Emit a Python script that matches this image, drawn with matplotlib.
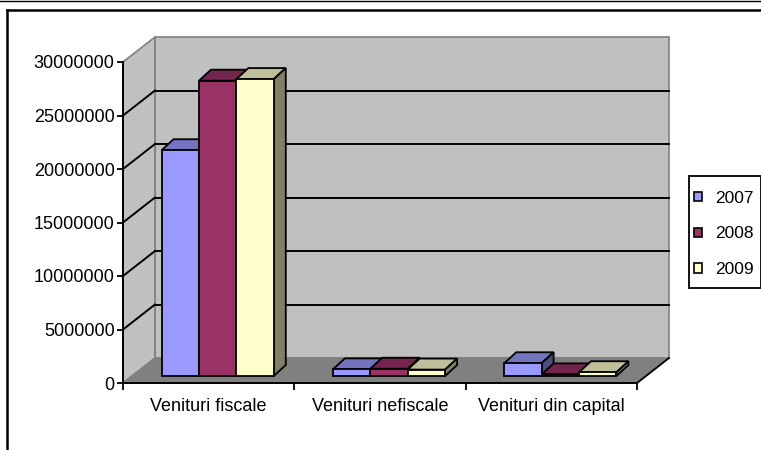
import numpy as np
import matplotlib
matplotlib.use("Agg")
import matplotlib.pyplot as plt
from matplotlib.patches import Polygon, Rectangle, Patch
from matplotlib.lines import Line2D
from matplotlib.colors import to_rgb

plt.rcParams['font.family'] = ['Liberation Sans', 'DejaVu Sans']

# ---- data ----
categories = ["Venituri fiscale", "Venituri nefiscale", "Venituri din capital"]
years = ["2007", "2008", "2009"]
v2007 = [21100000, 620000, 1190000]
v2008 = [27600000, 680000, 150000]
v2009 = [27750000, 600000, 350000]
series_values = [v2007, v2008, v2009]
colors = ["#9999FF", "#993366", "#FFFFCC"]
yticks = [0, 5000000, 10000000, 15000000, 20000000, 25000000, 30000000]

W, H = 761, 450
fig = plt.figure(figsize=(W / 100, H / 100), dpi=100)
fig.patch.set_facecolor("white")

def fx(px):
    return px / W

def fy(py):
    return 1 - py / H

# front plane of the 3D box
L, R, B, T = 123, 637, 383, 62
ax = fig.add_axes([fx(L), fy(B), fx(R) - fx(L), fy(T) - fy(B)])
ncat = len(categories)
ymax = yticks[-1]
ax.set_xlim(0, ncat)
ax.set_ylim(0, ymax)
ax.patch.set_visible(False)

ppx = (R - L) / ncat        # pixels per category unit
ppy = (B - T) / ymax        # pixels per value unit

def ox(px):
    return px / ppx

def oy(px):
    return px / ppy

WDX, WDY = ox(32), oy(25)   # wall depth
BX, BY = ox(9), oy(7)       # bar front offset
DX, DY = ox(12), oy(11)     # bar depth

wall_c = "#C0C0C0"
floor_c = "#808080"
edge_c = "#808080"

# back wall
ax.add_patch(Polygon([(WDX, WDY), (ncat + WDX, WDY), (ncat + WDX, ymax + WDY), (WDX, ymax + WDY)],
                     closed=True, facecolor=wall_c, edgecolor=edge_c, lw=1.2, zorder=0.5, clip_on=False))
# left wall
ax.add_patch(Polygon([(0, 0), (WDX, WDY), (WDX, ymax + WDY), (0, ymax)],
                     closed=True, facecolor=wall_c, edgecolor=edge_c, lw=1.2, zorder=0.5, clip_on=False))
# gridlines
for v in yticks[1:-1]:
    ax.add_line(Line2D([WDX, ncat + WDX], [v + WDY, v + WDY], color="black", lw=1.4, zorder=1, clip_on=False))
    ax.add_line(Line2D([0, WDX], [v, v + WDY], color="black", lw=1.4, zorder=1, clip_on=False))
# floor
ax.add_patch(Polygon([(0, 0), (ncat, 0), (ncat + WDX, WDY), (WDX, WDY)],
                     closed=True, facecolor=floor_c, edgecolor=edge_c, lw=1.0, zorder=1.5, clip_on=False))
ax.add_line(Line2D([ncat, ncat + WDX], [0, WDY], color="black", lw=1.3, zorder=1.6, clip_on=False))

# bars
GAP = 0.1725
BW = (1 - 2 * GAP) / len(years)
z = 3.0
for i in range(ncat):
    for j, vals in enumerate(series_values):
        base = np.array(to_rgb(colors[j]))
        top_c = base * 0.75
        side_c = base * 0.5
        h = vals[i]
        x0 = i + GAP + j * BW + BX
        y0 = BY
        top = Polygon([(x0, y0 + h), (x0 + BW, y0 + h), (x0 + BW + DX, y0 + h + DY), (x0 + DX, y0 + h + DY)],
                      closed=True, facecolor=top_c, edgecolor="black", lw=1.3, zorder=z, clip_on=False)
        side = Polygon([(x0 + BW, y0), (x0 + BW + DX, y0 + DY), (x0 + BW + DX, y0 + h + DY), (x0 + BW, y0 + h)],
                       closed=True, facecolor=side_c, edgecolor="black", lw=1.3, zorder=z, clip_on=False)
        front = Rectangle((x0, y0), BW, h, facecolor=colors[j], edgecolor="black", lw=1.3,
                          zorder=z + 0.001, clip_on=False)
        ax.add_patch(top)
        ax.add_patch(side)
        ax.add_patch(front)
        z += 0.01

# axes / spines
for s in ["top", "right"]:
    ax.spines[s].set_visible(False)
for s in ["left", "bottom"]:
    ax.spines[s].set_color("black")
    ax.spines[s].set_linewidth(1.4)
    ax.spines[s].set_zorder(10)

ax.set_yticks(yticks)
ax.set_yticklabels([str(v) for v in yticks])
ax.tick_params(axis="y", direction="out", length=4, width=1.3, labelsize=13, pad=2, colors="black")

ax.set_xticks(np.arange(ncat + 1))
ax.set_xticklabels([""] * (ncat + 1))
ax.set_xticks(np.arange(ncat) + 0.5, minor=True)
ax.set_xticklabels(categories, minor=True)
ax.tick_params(axis="x", which="major", direction="out", length=5, width=1.3)
ax.tick_params(axis="x", which="minor", length=0, labelsize=13, pad=11)

# legend (frame drawn separately)
fig.add_artist(Rectangle((fx(689), fy(288)), fx(761) - fx(689), fy(176) - fy(288),
                         transform=fig.transFigure, facecolor="white", edgecolor="black", lw=1.3, zorder=5))
handles = [Patch(facecolor=c, edgecolor="black", lw=1.2) for c in colors]
leg = fig.legend(handles, years, loc="center left", bbox_to_anchor=(fx(689), fy(234)),
                 fontsize=12.5, frameon=False,
                 handlelength=0.45, handleheight=0.45, handletextpad=0.75, labelspacing=1.2,
                 borderpad=0.3, borderaxespad=0)
leg.set_zorder(6)

# outer borders
fig.add_artist(Line2D([0, 1], [fy(0.5), fy(0.5)], transform=fig.transFigure, color="black", lw=1.0))
fig.add_artist(Line2D([fx(6.5), 1], [fy(10), fy(10)], transform=fig.transFigure, color="black", lw=1.8))
fig.add_artist(Line2D([fx(6.5), fx(6.5)], [fy(10), 0], transform=fig.transFigure, color="black", lw=1.8))

fig.savefig("out.png", dpi=100)
